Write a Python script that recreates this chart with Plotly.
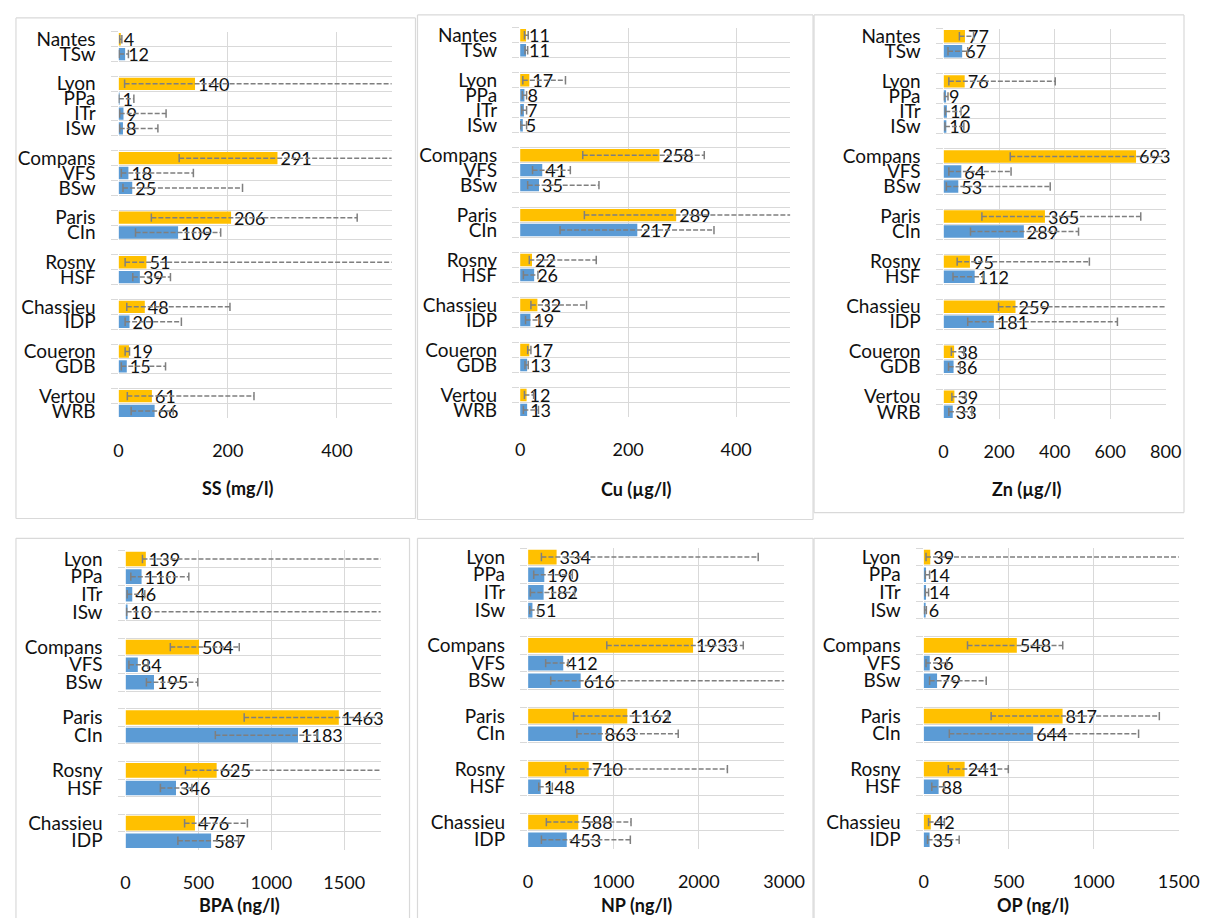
import plotly.graph_objects as go

W, H = 1205, 921
# the captured picture shows the figure's width squeezed to about 98.2 %;
# horizontal page positions are divided by this factor to compensate
SQUEEZE = 0.982

# ---------------- data ----------------
TOP_CATS = ["Nantes", "TSw", None, "Lyon", "PPa", "ITr", "ISw", None,
            "Compans", "VFS", "BSw", None, "Paris", "CIn", None,
            "Rosny", "HSF", None, "Chassieu", "IDP", None,
            "Coueron", "GDB", None, "Vertou", "WRB"]
BOTTOM_CATS = ["Lyon", "PPa", "ITr", "ISw", None, "Compans", "VFS", "BSw", None,
               "Paris", "CIn", None, "Rosny", "HSF", None, "Chassieu", "IDP"]
CITIES = ["Nantes", "Lyon", "Compans", "Paris", "Rosny", "Chassieu", "Coueron", "Vertou"]

SS_med = [4, 12, 140, 1, 9, 8, 291, 18, 25, 206, 109, 51, 39, 48, 20, 19, 15, 61, 66]
SS_lo = [2, 1, 11, 0.5, 2, 2, 111, 5, 8, 60, 31, 12, 26, 15, 12, 12, 5, 16, 23]
SS_hi = [6, 18, 620, 28, 87, 72, 560, 137, 227, 437, 187, 640, 95, 204, 115, 20, 86, 248, 100]

Cu_med = [11, 11, 17, 8, 7, 5, 258, 41, 35, 289, 217, 22, 26, 32, 19, 17, 13, 12, 13]
Cu_lo = [8, 9, 5, 4, 3, 1, 116, 23, 14, 119, 74, 17, 6, 20, 10, 14, 9, 8, 6]
Cu_hi = [15, 14, 84, 12, 12, 12, 341, 93, 146, 560, 359, 141, 33, 123, 37, 20, 15, 25, 34]

Zn_med = [77, 67, 76, 9, 12, 10, 693, 64, 53, 365, 289, 95, 112, 259, 181, 38, 36, 39, 33]
Zn_lo = [57, 16, 19, 2, 6, 5, 240, 19, 10, 138, 97, 49, 34, 198, 87, 28, 18, 30, 19]
Zn_hi = [108, 87, 402, 16, 63, 73, 880, 243, 384, 710, 486, 525, 144, 900, 626, 73, 60, 79, 102]

BPA_med = [139, 110, 46, 10, 504, 84, 195, 1463, 1183, 625, 346, 476, 587]
BPA_lo = [116, 36, 11, 7, 307, 23, 143, 814, 616, 411, 239, 405, 359]
BPA_hi = [2000, 434, 132, 2000, 780, 155, 495, 1900, 1314, 1900, 455, 836, 775]

NP_med = [334, 190, 182, 51, 1933, 412, 616, 1162, 863, 710, 148, 588, 453]
NP_lo = [156, 66, 27, 19, 922, 206, 265, 533, 572, 440, 125, 214, 156]
NP_hi = [2696, 518, 545, 117, 2521, 470, 3300, 1642, 1759, 2335, 284, 1206, 1198]

OP_med = [39, 14, 14, 6, 548, 36, 79, 817, 644, 241, 88, 42, 35]
OP_lo = [14, 10, 10, 4, 258, 14, 35, 397, 151, 145, 48, 29, 23]
OP_hi = [1700, 35, 29, 16, 818, 136, 368, 1386, 1264, 498, 122, 122, 209]

TITLES = ["SS (mg/l)", "Cu (µg/l)", "Zn (µg/l)", "BPA (ng/l)", "NP (ng/l)", "OP (ng/l)"]
X_MAX = [500, 500, 800, 1750, 3000, 1500]
X_DTICK = [200, 200, 200, 500, 1000, 500]

# ---------------- styles / layout (page pixels) ----------------
YELLOW = "#FFC000"
BLUE = "#5B9BD5"
ERR = "#7F7F7F"
GRID = "#D9D9D9"
FONT = "Lato"
TXT = "#111111"

# plot areas: (left, right, top, bottom)
AREAS = [(114, 388, 27, 417), (517, 788, 23, 416), (942, 1165, 24, 418),
         (121, 377, 550, 852), (525, 782, 548, 851), (922, 1178, 548, 851)]
TITLE_POS = [(233, 487), (633, 488), (1025, 488), (235, 908), (634, 908), (1032, 908)]
# chart-area frames: (left, top, right, bottom); None = edge outside the page
BOXES = [(11, 13, 412, 518), (414, 10, 811, 519), (812, 10, 1189, 512),
         (11, 538, 406, None), (414, 538, 811, None), (812, 538, None, None)]


def fx(px):
    return min(1.0, px / (W * SQUEEZE))


def fy(py):
    return 1 - py / H


def cat_names(cats):
    out, k = [], 0
    for c in cats:
        if c is None:
            k += 1
            out.append(" " * k)
        else:
            out.append(c)
    return out


panels = [
    (TOP_CATS, SS_med, SS_lo, SS_hi),
    (TOP_CATS, Cu_med, Cu_lo, Cu_hi),
    (TOP_CATS, Zn_med, Zn_lo, Zn_hi),
    (BOTTOM_CATS, BPA_med, BPA_lo, BPA_hi),
    (BOTTOM_CATS, NP_med, NP_lo, NP_hi),
    (BOTTOM_CATS, OP_med, OP_lo, OP_hi),
]

fig = go.Figure()
layout = dict(
    width=W, height=H, margin=dict(l=0, r=0, t=0, b=0, pad=0),
    paper_bgcolor="white", plot_bgcolor="white",
    showlegend=False, bargap=0.17,
    font=dict(family=FONT, size=18, color=TXT),
    shapes=[], annotations=[],
)


def frame_line(x0, y0, x1, y1):
    return dict(type="line", xref="paper", yref="paper", layer="below",
                x0=fx(x0), y0=fy(y0), x1=fx(x1), y1=fy(y1),
                line=dict(color=GRID, width=1.2))


for i, (cats, med, lo, hi) in enumerate(panels):
    n = i + 1
    xa = "x" if n == 1 else f"x{n}"
    ya = "y" if n == 1 else f"y{n}"
    allcats = cat_names(cats)
    labels = [c for c in cats if c is not None]
    colors = [YELLOW if c in CITIES else BLUE for c in labels]

    fig.add_trace(go.Bar(
        x=med, y=labels, orientation="h", xaxis=xa, yaxis=ya,
        marker=dict(color=colors, line=dict(width=0)),
        text=[str(v) for v in med], textposition="outside",
        textfont=dict(family=FONT, size=18, color=TXT),
        constraintext="none", cliponaxis=False, hoverinfo="skip",
    ))

    ex, ey = [], []
    for c, a, b in zip(labels, lo, hi):
        ex += [a, b, None]
        ey += [c, c, None]
    fig.add_trace(go.Scatter(
        x=ex, y=ey, xaxis=xa, yaxis=ya, mode="lines+markers",
        line=dict(color=ERR, width=1.5, dash="5px,2px"),
        marker=dict(symbol="line-ns", size=6, line=dict(color=ERR, width=1.5)),
        hoverinfo="skip",
    ))

    l, r, t, b = AREAS[i]
    xkey = "xaxis" if n == 1 else f"xaxis{n}"
    ykey = "yaxis" if n == 1 else f"yaxis{n}"
    layout[xkey] = dict(
        domain=[fx(l), fx(r)], anchor=ya, range=[0, X_MAX[i]], dtick=X_DTICK[i],
        tick0=0, tickmode="linear", showgrid=True, gridcolor=GRID, gridwidth=1,
        zeroline=False, showline=False, ticks="", ticklabelstandoff=20,
        tickfont=dict(family=FONT, size=18, color=TXT),
    )
    layout[ykey] = dict(
        domain=[fy(b), fy(t)], anchor=xa, type="category",
        categoryorder="array", categoryarray=allcats,
        range=[len(allcats) - 0.5, -0.5], tickson="boundaries",
        tickmode="linear", tick0=0, dtick=1,
        ticks="outside", ticklen=7, tickcolor=GRID, showgrid=True,
        gridcolor=GRID, gridwidth=1, showline=False, zeroline=False,
        ticklabelstandoff=22, tickfont=dict(family=FONT, size=19, color=TXT),
    )
    tx, ty = TITLE_POS[i]
    layout["annotations"].append(dict(
        text=f"<b>{TITLES[i]}</b>", x=fx(tx), y=fy(ty), xref="paper", yref="paper",
        showarrow=False, xanchor="center", yanchor="middle",
        font=dict(family=FONT, size=18, color=TXT),
    ))
    bl, bt, br, bb = BOXES[i]
    rr = br if br is not None else W * 2
    bbm = bb if bb is not None else H
    layout["shapes"].append(frame_line(bl, bt, rr, bt))
    layout["shapes"].append(frame_line(bl, bt, bl, bbm))
    if br is not None:
        layout["shapes"].append(frame_line(br, bt, br, bbm))
    if bb is not None:
        layout["shapes"].append(frame_line(bl, bb, rr, bb))

fig.update_layout(**layout)

POST = (
    "document.documentElement.style.overflow='hidden';"
    "document.body.style.margin='0';"
    "document.body.style.padding='0';"
    "document.body.style.overflow='hidden';"
)
fig.write_html("out.html", config={"displayModeBar": False, "responsive": False},
               post_script=POST)
